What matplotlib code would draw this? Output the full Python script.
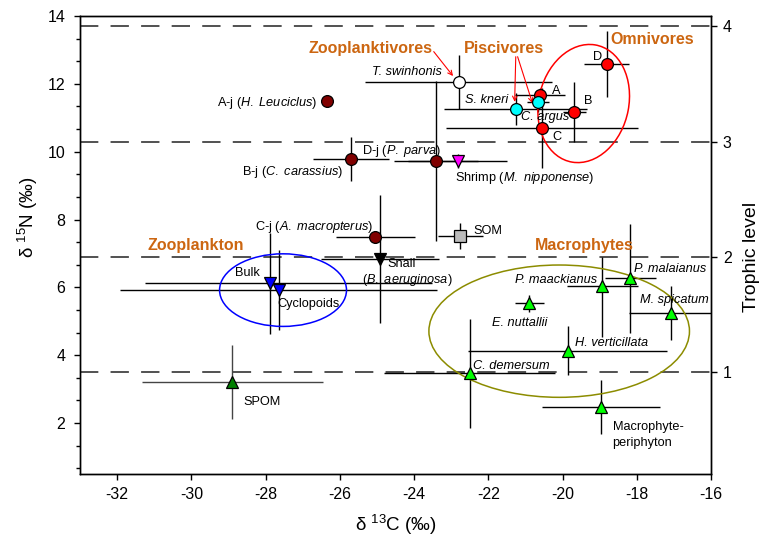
import matplotlib
matplotlib.use('Agg')
import matplotlib.pyplot as plt
from matplotlib.patches import Ellipse
from matplotlib.ticker import MultipleLocator, FixedLocator

plt.rcParams['font.family'] = ['Liberation Sans', 'DejaVu Sans']
plt.rcParams['mathtext.fontset'] = 'custom'
plt.rcParams['mathtext.rm'] = 'Liberation Sans'
plt.rcParams['mathtext.it'] = 'Liberation Sans:italic'
plt.rcParams['mathtext.default'] = 'regular'
plt.rcParams['axes.unicode_minus'] = False

# ---- data (d13C, d15N, sd) ----
# juvenile fish
juv_names = ['A-j', 'B-j', 'C-j', 'D-j']
juv_c = [-26.34, -25.70, -25.04, -23.41]
juv_n = [11.50, 9.78, 7.48, 9.73]
juv_c_sd = [0.0, 1.03, 1.06, 1.13]
juv_n_sd = [0.0, 0.65, 0.0, 2.36]

# omnivores
omn_names = ['A', 'B', 'C', 'D']
omn_c = [-20.61, -19.68, -20.56, -18.81]
omn_n = [11.67, 11.16, 10.69, 12.58]
omn_c_sd = [0.68, 0.30, 2.59, 0.61]
omn_n_sd = [0.20, 0.88, 1.18, 0.97]

# piscivores
pis_names = ['S. kneri', 'C. argus']
pis_c = [-21.26, -20.67]
pis_n = [11.27, 11.46]
pis_c_sd = [1.93, 0.30]
pis_n_sd = [0.47, 0.30]

# zooplanktivore
zpv_c = [-22.80]
zpv_n = [12.05]
zpv_c_sd = [2.52]
zpv_n_sd = [0.80]

# shrimp and snail
shrimp_c, shrimp_n, shrimp_c_sd, shrimp_n_sd = [-22.82], [9.72], [1.33], [0.20]
snail_c, snail_n, snail_c_sd, snail_n_sd = [-24.92], [6.84], [1.59], [1.89]

# zooplankton (Bulk, Cyclopoids)
zpl_c = [-27.89, -27.65]
zpl_n = [6.12, 5.92]
zpl_c_lo = [3.35, 4.28]
zpl_c_hi = [4.38, 4.28]
zpl_n_sd = [1.49, 1.18]

# SOM, SPOM
som_c, som_n, som_c_sd, som_n_sd = [-22.75], [7.52], [0.61], [0.39]
spom_c, spom_n, spom_c_sd, spom_n_sd = [-28.90], [3.22], [2.44], [1.09]

# macrophytes
mac_names = ['P. maackianus', 'P. malaianus', 'M. spicatum', 'E. nuttallii',
             'H. verticillata', 'C. demersum', 'Macrophyte-periphyton']
mac_c = [-18.93, -18.17, -17.08, -20.89, -19.86, -22.50, -18.96]
mac_n = [6.04, 6.27, 5.24, 5.53, 4.14, 3.47, 2.47]
mac_c_sd = [0.96, 0.69, 1.14, 0.39, 2.68, 2.31, 1.59]
mac_n_lo = [1.49, 1.60, 0.80, 0.25, 0.72, 1.60, 0.80]
mac_n_hi = [0.85, 1.60, 0.80, 0.25, 0.72, 1.60, 0.80]

# trophic level baseline
tl_base = 3.5
tl_step = 3.4
tl_levels = [1, 2, 3, 4]

orange = '#CC6611'

fig = plt.figure(figsize=(7.61, 5.42), dpi=100)
ax = fig.add_axes([80 / 761, 1 - 474 / 542, 631 / 761, 458 / 542])
ax.set_xlim(-33, -16)
ax.set_ylim(0.5, 14)

for t in tl_levels:
    ax.axhline(tl_base + (t - 1) * tl_step, color='#222222', lw=1.1,
               ls=(0, (12, 8)), zorder=1)


def draw(c, n, xerr, yerr, marker, face, ms=8.5, ecol='black'):
    ax.errorbar(c, n, xerr=xerr, yerr=yerr, fmt='none', ecolor=ecol,
                elinewidth=1.0, capsize=0, zorder=2)
    ax.plot(c, n, ls='none', marker=marker, ms=ms, mfc=face, mec='black',
            mew=0.9, zorder=5)


draw(juv_c, juv_n, juv_c_sd, juv_n_sd, 'o', '#800000')
draw(zpv_c, zpv_n, zpv_c_sd, zpv_n_sd, 'o', 'white')
draw(omn_c, omn_n, omn_c_sd, omn_n_sd, 'o', '#FF0000')
draw(pis_c, pis_n, pis_c_sd, pis_n_sd, 'o', '#00FFFF')
draw(shrimp_c, shrimp_n, shrimp_c_sd, shrimp_n_sd, 'v', '#FF00FF', ms=8)
draw(snail_c, snail_n, snail_c_sd, snail_n_sd, 'v', 'black', ms=8)
draw(zpl_c, zpl_n, [zpl_c_lo, zpl_c_hi], zpl_n_sd, 'v', '#0000FF', ms=8)
draw(som_c, som_n, som_c_sd, som_n_sd, 's', '#BBBBBB', ms=8)
draw(spom_c, spom_n, spom_c_sd, spom_n_sd, '^', '#008000', ms=8, ecol='#444444')
draw(mac_c, mac_n, mac_c_sd, [mac_n_lo, mac_n_hi], '^', '#00FF00', ms=8)

# group ellipses
ax.add_patch(Ellipse((-19.43, 11.42), 2.43, 3.51, angle=-10, fill=False,
                     ec='#FF0000', lw=1.1, zorder=3))
ax.add_patch(Ellipse((-27.53, 5.92), 3.42, 2.14, fill=False,
                     ec='#0000FF', lw=1.1, zorder=3))
ax.add_patch(Ellipse((-20.09, 4.71), 7.02, 3.90, fill=False,
                     ec='#8C8C00', lw=1.1, zorder=3))

# group titles
bold = dict(color=orange, fontsize=11.5, fontweight='bold', ha='center', va='center')
ax.text(-25.17, 13.05, 'Zooplanktivores', **bold)
ax.text(-21.58, 13.05, 'Piscivores', **bold)
ax.text(-17.59, 13.31, 'Omnivores', **bold)
ax.text(-29.87, 7.23, 'Zooplankton', **bold)
ax.text(-19.40, 7.25, 'Macrophytes', **bold)

arr = dict(arrowstyle='->', color='#FF0000', lw=0.8, shrinkA=0, shrinkB=0,
           mutation_scale=8)
ax.annotate('', xy=(-22.95, 12.23), xytext=(-23.47, 12.95), arrowprops=arr)
ax.annotate('', xy=(-21.29, 11.47), xytext=(-21.26, 12.80), arrowprops=arr)
ax.annotate('', xy=(-20.81, 11.43), xytext=(-21.21, 12.80), arrowprops=arr)

# point labels
fs = 9.2
lab = dict(fontsize=fs, va='center')
ax.text(-23.24, 12.34, 'T. swinhonis', ha='right', style='italic', **lab)
ax.text(-26.61, 11.43, r'A-j ($\mathit{H.\ Leuciclus}$)', ha='right', **lab)
ax.text(-25.90, 9.41, r'B-j ($\mathit{C.\ carassius}$)', ha='right', **lab)
ax.text(-25.40, 10.03, r'D-j ($\mathit{P.\ parva}$)', ha='left', **lab)
ax.text(-22.91, 9.22, r'Shrimp ($\mathit{M.\ nipponense}$)', ha='left', **lab)
ax.text(-25.10, 7.79, r'C-j ($\mathit{A.\ macropterus}$)', ha='right', **lab)
ax.text(-24.71, 6.68, 'Snail', ha='left', **lab)
ax.text(-25.40, 6.22, r'($\mathit{B.\ aeruginosa}$)', ha='left', **lab)
ax.text(-22.39, 7.67, 'SOM', ha='left', **lab)
ax.text(-28.48, 6.43, 'Bulk', ha='center', **lab)
ax.text(-27.67, 5.51, 'Cyclopoids', ha='left', **lab)
ax.text(-28.59, 2.61, 'SPOM', ha='left', **lab)
ax.text(-21.45, 11.52, pis_names[0], ha='right', style='italic', **lab)
ax.text(-21.13, 11.01, pis_names[1], ha='left', style='italic', **lab)
ax.text(-20.29, 11.80, omn_names[0], ha='left', **lab)
ax.text(-19.42, 11.50, omn_names[1], ha='left', **lab)
ax.text(-20.27, 10.42, omn_names[2], ha='left', **lab)
ax.text(-19.19, 12.80, omn_names[3], ha='left', **lab)
ax.text(-19.08, 6.22, mac_names[0], ha='right', style='italic', **lab)
ax.text(-18.07, 6.54, mac_names[1], ha='left', style='italic', **lab)
ax.text(-16.05, 5.63, mac_names[2], ha='right', style='italic', **lab)
ax.text(-21.15, 4.96, mac_names[3], ha='center', style='italic', **lab)
ax.text(-19.67, 4.35, mac_names[4], ha='left', style='italic', **lab)
ax.text(-22.40, 3.68, mac_names[5], ha='left', style='italic', **lab)
ax.text(-18.65, 1.65, 'Macrophyte-\nperiphyton', ha='left', linespacing=1.4, **lab)

# axes styling
ax.xaxis.set_major_locator(FixedLocator(range(-32, -15, 2)))
ax.yaxis.set_major_locator(FixedLocator(range(2, 15, 2)))
ax.yaxis.set_minor_locator(MultipleLocator(2 / 3))
ax.tick_params(axis='both', which='major', direction='out', length=4.5,
               width=1, labelsize=11.5)
ax.tick_params(axis='x', pad=5)
ax.tick_params(axis='y', pad=6)
ax.tick_params(axis='y', which='minor', direction='out', length=3, width=1)
for s in ax.spines.values():
    s.set_linewidth(1.0)

ax2 = ax.twinx()
ax2.set_ylim(1 + (0.5 - tl_base) / tl_step, 1 + (14 - tl_base) / tl_step)
ax2.yaxis.set_major_locator(FixedLocator(tl_levels))
ax2.tick_params(axis='y', direction='out', length=4.5, width=1,
                labelsize=11.5, pad=4)
for s in ax2.spines.values():
    s.set_linewidth(1.0)

fig.text(28 / 761, 1 - 217 / 542, 'δ $^{15}$N (‰)', rotation=90,
         ha='center', va='center', fontsize=13.5)
fig.text(396 / 761, 1 - 525 / 542, 'δ $^{13}$C (‰)',
         ha='center', va='center', fontsize=13.5)
fig.text(751 / 761, 1 - 257 / 542, 'Trophic level', rotation=90,
         ha='center', va='center', fontsize=14)

fig.savefig('out.png', dpi=100)
